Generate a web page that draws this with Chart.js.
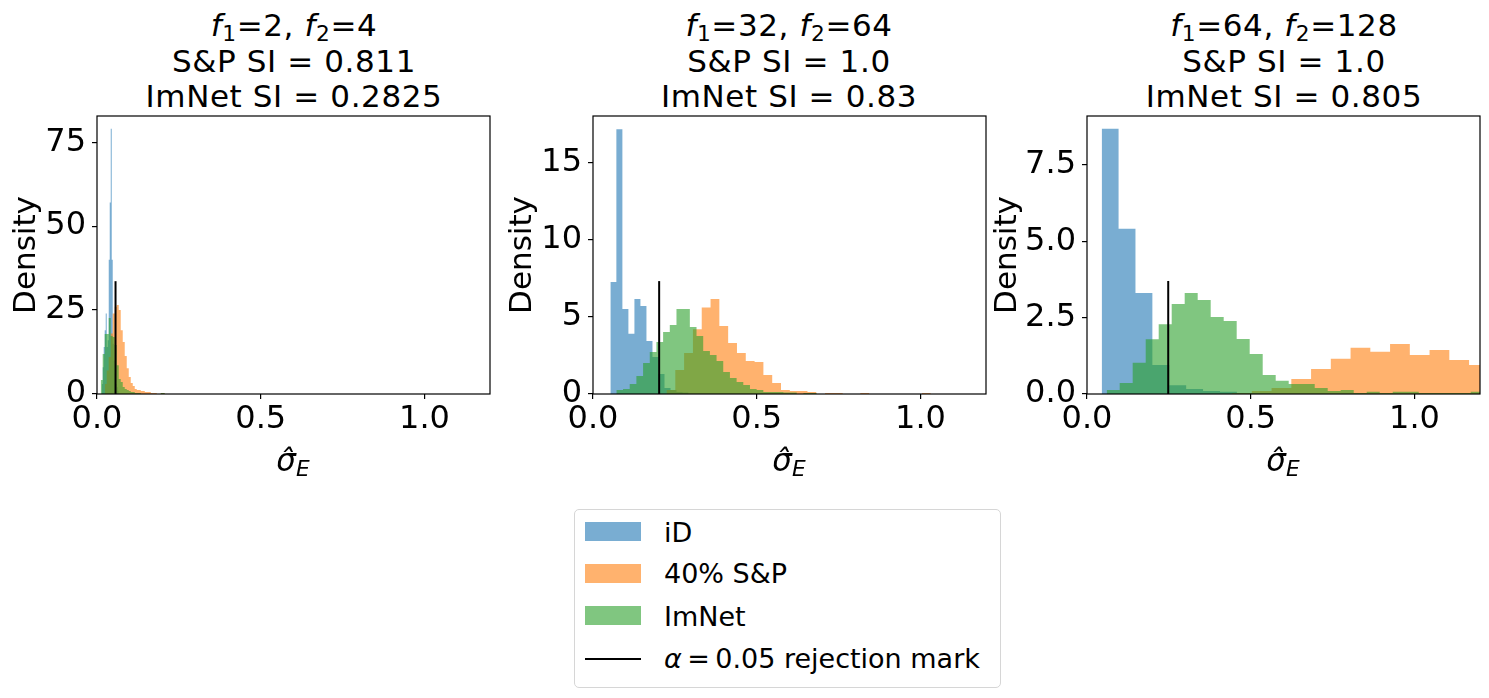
<!DOCTYPE html>
<html>
<head>
<meta charset="utf-8">
<script src="https://cdn.jsdelivr.net/npm/chart.js@4.4.1/dist/chart.umd.min.js"></script>
<style>
  body { margin: 0; background: #fff; font-family: "DejaVu Sans", sans-serif; color: #000; }
  #fig { position: relative; width: 1489px; height: 698px; overflow: hidden; background: #fff; }
  canvas { position: absolute; }
  .title { position: absolute; width: 520px; top: 8px; text-align: center; font-size: 31px; line-height: 35.5px; letter-spacing: 0.6px; white-space: nowrap; }
  .xlab { position: absolute; width: 200px; top: 443px; text-align: center; font-size: 31px; line-height: 34px; }
  sub { font-size: 70%; vertical-align: -0.22em; line-height: 0; }
  #legend { position: absolute; left: 574px; top: 509px; width: 425px; height: 177px; border: 1px solid #d6d6d6; border-radius: 5px; background: #fff; }
  .patch { position: absolute; left: 585px; width: 56px; height: 19px; }
  .ltext { position: absolute; left: 664px; font-size: 27px; line-height: 30px; white-space: nowrap; }
</style>
</head>
<body>
<div id="fig">
  <div class="title" style="left:34px"><i>f</i><sub>1</sub>=2, <i>f</i><sub>2</sub>=4<br>S&amp;P SI = 0.811<br>ImNet SI = 0.2825</div>
  <div class="title" style="left:529px"><i>f</i><sub>1</sub>=32, <i>f</i><sub>2</sub>=64<br>S&amp;P SI = 1.0<br>ImNet SI = 0.83</div>
  <div class="title" style="left:1024px"><i>f</i><sub>1</sub>=64, <i>f</i><sub>2</sub>=128<br>S&amp;P SI = 1.0<br>ImNet SI = 0.805</div>

  <canvas id="c1" width="487" height="398" style="left:11px;top:86px;width:487px;height:398px"></canvas>
  <canvas id="c2" width="487" height="398" style="left:507px;top:86px;width:487px;height:398px"></canvas>
  <canvas id="c3" width="496" height="398" style="left:992px;top:86px;width:496px;height:398px"></canvas>

  <div class="xlab" style="left:193px"><i>σ̂</i><sub><i>E</i></sub></div>
  <div class="xlab" style="left:689px"><i>σ̂</i><sub><i>E</i></sub></div>
  <div class="xlab" style="left:1183px"><i>σ̂</i><sub><i>E</i></sub></div>

  <div id="legend"></div>
  <div class="patch" style="top:522px;background:rgba(31,119,180,0.6)"></div>
  <div class="patch" style="top:564px;background:rgba(255,127,14,0.6)"></div>
  <div class="patch" style="top:606px;background:rgba(44,160,44,0.6)"></div>
  <div class="patch" style="top:658px;height:2px;background:#000"></div>
  <div class="ltext" style="top:518px">iD</div>
  <div class="ltext" style="top:559px">40% S&amp;P</div>
  <div class="ltext" style="top:602px">ImNet</div>
  <div class="ltext" style="top:644px"><i>α</i>&thinsp;=&thinsp;0.05 rejection mark</div>
</div>

<script>
// shared axis data
const xTicks = [0, 0.5, 1.0];
const xTickLabels = ['0.0', '0.5', '1.0'];
const xMax = 1.2;
const seriesColors = ['rgba(31,119,180,0.6)', 'rgba(255,127,14,0.6)', 'rgba(44,160,44,0.6)'];

// panel 1: f1=2, f2=4   (bins: [iD, S&P, ImNet])
const p1BinStart = [0.0144, 0.0235, 0.0113];
const p1BinWidth = [0.00306, 0.00612, 0.00612];
const p1IdDensity = [3, 8, 14, 19, 24, 14, 16, 40, 57, 79, 40, 15, 10, 6, 3, 2, 1];
const p1SpDensity = [3, 7, 11, 18, 24, 26, 26.5, 25, 19, 15.5, 11.3, 7.7, 5.1, 3.3, 2.4, 1.5, 1.2, 1.2, 0.9, 0.9,
  0.6, 0.6, 0.6, 0.3, 0.3, 0.3, 0, 0, 0.3, 0.3];
const p1ImnetDensity = [4.2, 11.9, 17.9, 17.9, 22.6, 17.3, 17.0, 14.6, 8.6, 4.5, 3.6, 2.1, 1.5, 1.2, 0.9, 0.6,
  0.6, 0.3, 0.3, 0.3, 0, 0, 0, 0, 0, 0, 0, 0, 0, 0, 0.3, 0.3];
const p1Mark = [0.0566, 33.6];
const p1YMax = 82.8;
const p1YTicks = [0, 25, 50, 75];
const p1YTickLabels = ['0', '25', '50', '75'];

// panel 2: f1=32, f2=64
const p2BinStart = [0.053, 0.2244, 0.0713];
const p2BinWidth = [0.01837, 0.0269, 0.0204];
const p2IdDensity = [7.25, 17.15, 5.5, 3.9, 6.15, 5.7, 3.43, 2.4, 1.29, 0.39, 0.26, 0.13, 0.1];
const p2SpDensity = [0.26, 1.55, 2.65, 4.2, 5.6, 6.15, 4.4, 3.3, 2.65, 2.14, 2.07, 1.23, 0.71, 0.26, 0.19,
  0.19, 0.13, 0, 0.06, 0.06, 0, 0, 0.06, 0, 0, 0, 0, 0, 0, 0.06];
const p2ImnetDensity = [0.26, 0.32, 0.65, 1.17, 2.01, 2.72, 3.36, 4.01, 4.47, 5.5, 5.5, 4.34, 3.75, 2.78, 2.52,
  2.14, 1.42, 1.04, 0.78, 0.58, 0.32, 0.26, 0.13, 0.13, 0.13, 0.1, 0.1, 0, 0.06, 0.06];
const p2Mark = [0.202, 7.31];
const p2YMax = 18.0;
const p2YTicks = [0, 5, 10, 15];
const p2YTickLabels = ['0', '5', '10', '15'];

// panel 3: f1=64, f2=128
const p3BinStart = [0.0448, 0.443, 0.0601];
const p3BinWidth = [0.0516, 0.0603, 0.0397];
const p3IdDensity = [8.68, 5.41, 3.31, 0.95, 0.29, 0.16, 0.1, 0.07, 0.03, 0.03];
const p3SpDensity = [0.03, 0.1, 0.2, 0.49, 0.82, 1.15, 1.51, 1.38, 1.64, 1.28, 1.44, 1.11, 0.95, 0.9];
const p3ImnetDensity = [0.13, 0.36, 1.02, 1.79, 2.28, 2.95, 3.31, 3.08, 2.52, 2.39, 1.80, 1.31, 0.62, 0.43,
  0.33, 0.33, 0.2, 0.1, 0.13, 0.03, 0.07, 0.03, 0.07, 0.07, 0.03, 0.03, 0.03, 0.03, 0.07];
const p3Mark = [0.248, 3.7];
const p3YMax = 9.1;
const p3YTicks = [0, 2.5, 5.0, 7.5];
const p3YTickLabels = ['0.0', '2.5', '5.0', '7.5'];

Chart.defaults.font.family = '"DejaVu Sans", sans-serif';
Chart.defaults.color = '#000';

// histogram as a stepped outline: each bin edge holds its density until the next edge
function histPoints(start, width, dens) {
  let pts = dens.map((d, i) => ({x: start + i * width, y: d}));
  pts.push({x: start + dens.length * width, y: 0});
  return pts;
}

const framePlugin = {
  id: 'frame',
  afterDatasetsDraw(chart) {
    const a = chart.chartArea;
    const ctx = chart.ctx;
    ctx.save();
    ctx.strokeStyle = '#000';
    ctx.lineWidth = 1.2;
    ctx.strokeRect(a.left, a.top, a.right - a.left, a.bottom - a.top);
    ctx.restore();
  }
};

const tickGrid = {drawOnChartArea: false, drawTicks: true, tickLength: 5, color: '#000', lineWidth: 1.2};

function histChart(id, starts, widths, densList, mark, yMax, yTicks, yLabels, yWidth) {
  let datasets = densList.map((dens, i) => ({
    data: histPoints(starts[i], widths[i], dens),
    stepped: 'before',
    fill: 'origin',
    backgroundColor: seriesColors[i],
    borderColor: 'rgba(0,0,0,0)',
    borderWidth: 0,
    pointRadius: 0,
    order: 3 - i
  }));
  datasets.push({
    data: [{x: mark[0], y: 0}, {x: mark[0], y: mark[1]}],
    borderColor: '#000',
    borderWidth: 2,
    pointRadius: 0,
    fill: false,
    order: 0
  });
  new Chart(document.getElementById(id).getContext('2d'), {
    type: 'line',
    data: {datasets: datasets},
    plugins: [framePlugin],
    options: {
      responsive: false,
      animation: false,
      events: [],
      layout: {padding: {top: 30, right: 8, left: 0, bottom: 0}},
      plugins: {legend: {display: false}, tooltip: {enabled: false}},
      scales: {
        x: {
          type: 'linear', min: 0, max: xMax,
          afterBuildTicks: s => { s.ticks = xTicks.map(v => ({value: v})); },
          afterFit: s => { s.height = 90; },
          ticks: {font: {size: 32, lineHeight: 1.2}, padding: 1, autoSkip: false, maxRotation: 0,
                  callback: (v, i) => xTickLabels[i]},
          grid: tickGrid,
          border: {display: false}
        },
        y: {
          type: 'linear', min: 0, max: yMax,
          afterBuildTicks: s => { s.ticks = yTicks.map(v => ({value: v})); },
          afterFit: s => { s.width = yWidth; },
          ticks: {font: {size: 32, lineHeight: 1.2}, padding: 6, autoSkip: false,
                  callback: (v, i) => yLabels[i]},
          grid: tickGrid,
          border: {display: false},
          title: {display: true, text: 'Density', font: {size: 31, lineHeight: 1}, padding: 0}
        }
      }
    }
  });
}

histChart('c1', p1BinStart, p1BinWidth, [p1IdDensity, p1SpDensity, p1ImnetDensity], p1Mark, p1YMax, p1YTicks, p1YTickLabels, 86);
histChart('c2', p2BinStart, p2BinWidth, [p2IdDensity, p2SpDensity, p2ImnetDensity], p2Mark, p2YMax, p2YTicks, p2YTickLabels, 86);
histChart('c3', p3BinStart, p3BinWidth, [p3IdDensity, p3SpDensity, p3ImnetDensity], p3Mark, p3YMax, p3YTicks, p3YTickLabels, 95);
</script>
</body>
</html>
